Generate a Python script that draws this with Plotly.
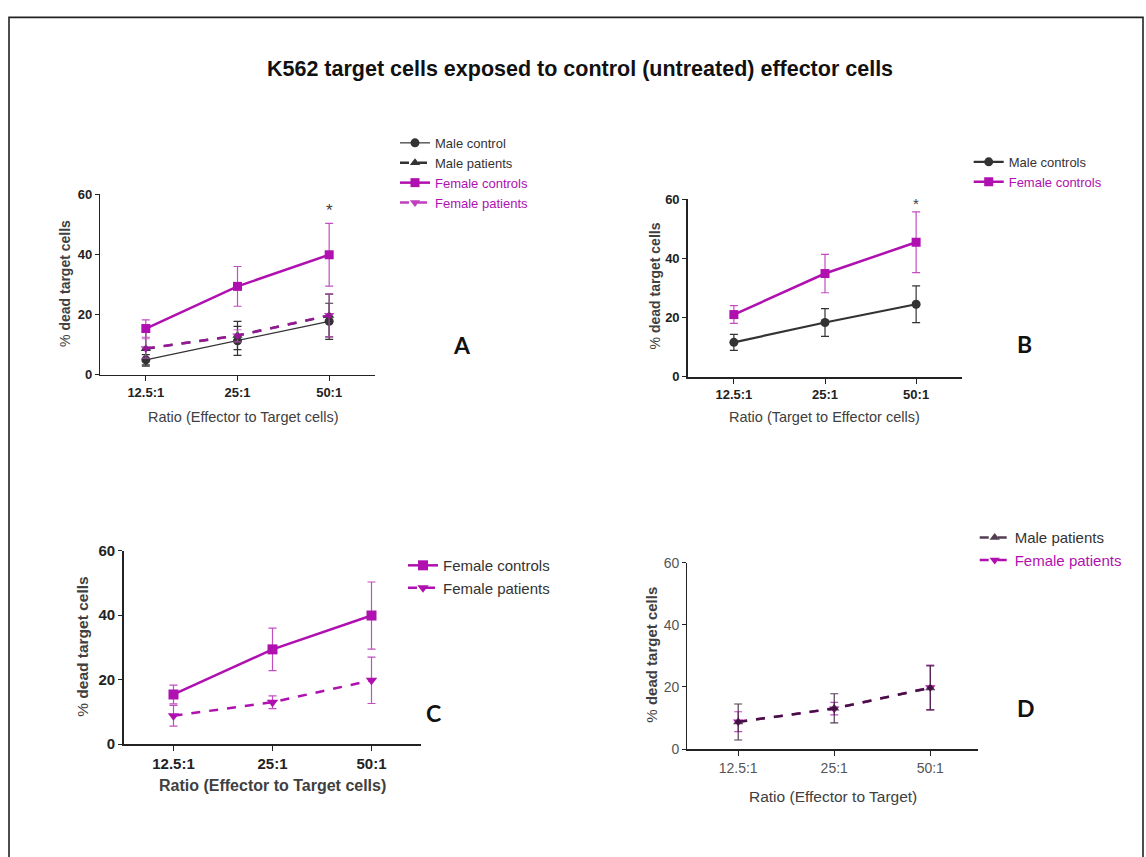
import plotly.graph_objects as go

# ---------------- data ----------------
ratios = ["12.5:1", "25:1", "50:1"]

# Panel A / C / D groups (mean, SEM)
male_ctrl_a = [5.0, 11.3, 17.8]
male_ctrl_a_err = [1.7, 4.8, 6.0]
male_pat = [8.7, 13.1, 19.7]
male_pat_err = [5.8, 4.7, 7.1]
fem_ctrl = [15.4, 29.4, 39.9]
fem_ctrl_err = [2.9, 6.6, 10.4]
fem_pat = [8.8, 13.0, 19.8]
fem_pat_err = [3.2, 2.0, 7.2]

# Panel B groups
male_ctrl_b = [11.6, 18.3, 24.5]
male_ctrl_b_err = [2.7, 4.7, 6.2]
fem_ctrl_b = [21.0, 34.9, 45.5]
fem_ctrl_b_err = [3.0, 6.5, 10.3]

title_text = "K562 target cells exposed to control (untreated) effector cells"
ytitle = "% <b>dead target cells</b>"
xtitles = ["Ratio (Effector to Target cells)", "Ratio (Target to Effector cells)",
           "<b>Ratio (Effector to Target cells)</b>", "Ratio (Effector to Target)"]
panel_letters = ["A", "B", "C", "D"]

# ---------------- style ----------------
W, H = 1146, 857
MAG = "#B010B0"
MAG_ERR = "#C24EC2"
DARK = "#333333"
GREY = "#404040"
ARIAL = "Liberation Sans, Arial, sans-serif"


def px_x(v):
    return v / W


def px_y(v):
    return 1 - v / H


fig = go.Figure()


def add(xa, ya, y, err, name, color, symbol, dash, lw, ms, legend, errcolor=None,
        opacity=1.0, rank=1000):
    fig.add_trace(go.Scatter(
        x=ratios, y=y, xaxis=xa, yaxis=ya, name=name, legend=legend,
        legendrank=rank, opacity=opacity,
        mode="lines+markers",
        line=dict(color=color, width=lw, dash=dash),
        marker=dict(symbol=symbol, size=ms, color=color),
        error_y=dict(type="data", array=err, visible=True,
                     color=errcolor or color, thickness=1.2, width=4),
        cliponaxis=False,
    ))


def span(txt, col):
    return f"<span style='color:{col}'>{txt}</span>"


# Panel A
add("x", "y", male_ctrl_a, male_ctrl_a_err, "Male control", DARK, "circle", "solid", 1.2, 9, "legend", rank=1)
add("x", "y", male_pat, male_pat_err, "Male patients", DARK, "triangle-up", "dash", 2.5, 9, "legend", rank=2)
add("x", "y", fem_ctrl, fem_ctrl_err, span("Female controls", MAG), MAG, "square", "solid", 2.5, 9, "legend",
    errcolor=MAG_ERR, rank=3)
add("x", "y", fem_pat, fem_pat_err, span("Female patients", MAG), MAG, "triangle-down", "dash", 2.5, 9, "legend",
    errcolor=MAG_ERR, opacity=0.8, rank=4)

# Panel B
add("x2", "y2", male_ctrl_b, male_ctrl_b_err, "Male controls", DARK, "circle", "solid", 2.2, 9, "legend2", rank=1)
add("x2", "y2", fem_ctrl_b, fem_ctrl_b_err, span("Female controls", MAG), MAG, "square", "solid", 2.5, 9, "legend2",
    errcolor=MAG_ERR, rank=2)

# Panel C
add("x3", "y3", fem_ctrl, fem_ctrl_err, "Female controls", MAG, "square", "solid", 2.5, 10, "legend3",
    errcolor=MAG_ERR, rank=1)
add("x3", "y3", fem_pat, fem_pat_err, "Female patients", MAG, "triangle-down", "dash", 2.5, 10, "legend3",
    errcolor=MAG_ERR, rank=2)

# Panel D
add("x4", "y4", fem_pat, fem_pat_err, span("Female patients", MAG), MAG, "triangle-down", "dash", 2.5, 9, "legend4",
    errcolor=MAG_ERR, rank=2)
add("x4", "y4", male_pat, male_pat_err, "Male patients", "#2a1028", "triangle-up", "dash", 2.5, 9, "legend4",
    opacity=0.8, rank=1)

# ---------------- axes ----------------
panels = {
    "1": dict(x0=100, x1=375, yt=189, yb=373.3, xl=-0.5, lw=1.2, tf=13, bold=True),
    "2": dict(x0=688.3, x1=961.7, yt=194.3, yb=375, xl=-0.5, lw=2.2, tf=13, bold=True),
    "3": dict(x0=124, x1=421, yt=552.7, yb=750, xl=-0.5, lw=1.6, tf=15, bold=True),
    "4": dict(x0=687.3, x1=978.3, yt=565, yb=755, xl=-0.53, lw=2.2, tf=14, bold=False),
}

for k, p in panels.items():
    sfx = "" if k == "1" else k
    tickcol = "#222222" if p["bold"] else "#555555"
    ticktext_x = [f"<b>{r}</b>" if p["bold"] else r for r in ratios]
    fig.update_layout(**{
        f"xaxis{sfx}": dict(
            domain=[px_x(p["x0"]), px_x(p["x1"])],
            anchor=f"y{sfx}",
            type="category", range=[p["xl"], 2.5],
            tickvals=ratios, ticktext=ticktext_x,
            showline=True, linecolor="#222222", linewidth=p["lw"],
            ticks="outside", ticklen=5, tickwidth=1.2, tickcolor="#222222",
            showgrid=False, zeroline=False,
            tickfont=dict(family=ARIAL, size=p["tf"], color=tickcol),
            fixedrange=True,
        ),
        f"yaxis{sfx}": dict(
            domain=[px_y(p["yb"]), px_y(p["yt"])],
            anchor=f"x{sfx}",
            range=[0, 60], tickvals=[0, 20, 40, 60],
            ticktext=[f"<b>{v}</b>" if p["bold"] else str(v) for v in [0, 20, 40, 60]],
            showline=True, linecolor="#222222", linewidth=1.2 if k in ("1", "4") else p["lw"],
            ticks="outside", ticklen=4, tickwidth=1.2, tickcolor="#222222",
            showgrid=False, zeroline=False,
            tickfont=dict(family=ARIAL, size=p["tf"], color=tickcol),
            fixedrange=True,
        ),
    })

# ---------------- legends ----------------
def legend_cfg(x_text, y_top, size, gap=0, color=DARK):
    return dict(
        x=px_x(x_text - 42), y=px_y(y_top), xanchor="left", yanchor="top",
        xref="paper", yref="paper",
        bgcolor="rgba(0,0,0,0)", borderwidth=0,
        font=dict(family=ARIAL, size=size, color=color),
        tracegroupgap=gap, itemclick=False, itemdoubleclick=False,
        traceorder="normal",
    )


fig.update_layout(
    legend=legend_cfg(437, 143.3 - 22, 13),
    legend2=legend_cfg(1010.7, 162.7 - 22, 13),
    legend3=legend_cfg(445, 565 - 14, 15),
    legend4=legend_cfg(1016.7, 535.7 - 13, 15),
    showlegend=True,
)

# ---------------- annotations ----------------
ann = []
ann.append(dict(text=f"<b>{title_text}</b>", x=px_x(580), y=px_y(61), xref="paper", yref="paper",
                showarrow=False, font=dict(family=ARIAL, size=21.5, color="#111111"),
                xanchor="center", yanchor="middle"))

# y-axis titles
for (xc, yc, fs) in [(65, 280.5, 14), (655, 283, 14), (81.7, 651, 15.5), (651.7, 659, 15)]:
    ann.append(dict(text=ytitle, x=px_x(xc), y=px_y(yc), xref="paper", yref="paper",
                    showarrow=False, textangle=-90, xanchor="center", yanchor="middle",
                    font=dict(family=ARIAL, size=fs, color=GREY)))

# x-axis titles
for txt, (xc, yc, fs) in zip(xtitles, [(243, 416, 14.5), (824, 416, 14.5),
                                       (272, 792, 16), (833, 803, 15.5)]):
    ann.append(dict(text=txt, x=px_x(xc), y=px_y(yc), xref="paper", yref="paper",
                    showarrow=False, xanchor="center", yanchor="middle",
                    font=dict(family=ARIAL, size=fs, color=GREY)))

# panel letters
for letter, (xc, yc) in zip(panel_letters, [(461.7, 343.3), (1024, 341.7), (433.3, 718.3), (1025.7, 712.7)]):
    ann.append(dict(text=f"<b>{letter}</b>", x=px_x(xc), y=px_y(yc), xref="paper", yref="paper",
                    showarrow=False, xanchor="center", yanchor="middle",
                    font=dict(family="Lato, Open Sans, sans-serif", size=23, color="#111111")))

# significance asterisks
ann.append(dict(text="*", x=ratios[2], y=54.5, xref="x", yref="y", showarrow=False,
                font=dict(family=ARIAL, size=17, color=GREY)))
ann.append(dict(text="*", x=ratios[2], y=58.5, xref="x2", yref="y2", showarrow=False,
                font=dict(family=ARIAL, size=15, color=GREY)))

fig.update_layout(
    annotations=ann,
    width=W, height=H,
    margin=dict(l=0, r=0, t=0, b=0),
    paper_bgcolor="white", plot_bgcolor="rgba(0,0,0,0)",
    shapes=[dict(type="rect", xref="paper", yref="paper",
                 x0=px_x(9), x1=px_x(1143), y0=-0.05, y1=px_y(8.5),
                 line=dict(color="#222222", width=1.6), fillcolor="rgba(0,0,0,0)")],
)

fig.write_html("out.html", config={"displayModeBar": False})
